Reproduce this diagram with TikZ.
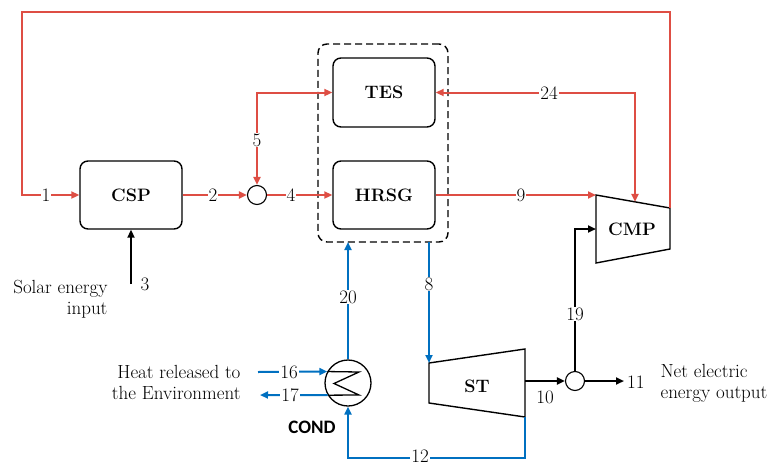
\documentclass[tikz,border=0pt]{standalone}
\usepackage{fontspec}
\newfontfamily\condfont{Carlito}
\usetikzlibrary{arrows.meta}
\definecolor{flowred}{RGB}{222,78,68}
\definecolor{flowblue}{RGB}{0,112,192}
\begin{document}
\begin{tikzpicture}[x=1pt,y=-1pt,
  every node/.style={font=\fontsize{19}{21}\selectfont},
  unit/.style={draw,line width=1.4pt,rounded corners=8pt,minimum width=102pt,minimum height=68pt,font=\fontsize{18}{21}\selectfont\bfseries},
  mixer/.style={draw,circle,line width=1.1pt,minimum size=19pt,inner sep=0pt},
  rflow/.style={draw=flowred,line width=2pt},
  bflow/.style={draw=flowblue,line width=2pt},
  kflow/.style={draw=black,line width=2pt},
  tip/.style={-{Triangle[length=8pt,width=7pt]}},
  tips/.style={{Triangle[length=8pt,width=7pt]}-{Triangle[length=8pt,width=7pt]}},
  lbl/.style={fill=white,inner sep=1pt},
  plain/.style={inner sep=1pt}]
\useasboundingbox (0,0) rectangle (771,466);

% units
\node[unit] (csp) at (131,195) {CSP};
\node[unit,minimum height=69pt] (tes) at (384,92.5) {TES};
\node[unit] (hrsg) at (384,195) {HRSG};
\node[draw,dashed,dash pattern=on 7pt off 4pt,line width=1.4pt,rounded corners=9pt,minimum width=130pt,minimum height=198pt] (grp) at (383,143) {};
\node[mixer] (mixa) at (257,195) {};
\node[mixer] (mixb) at (575,381) {};
\node[draw,circle,line width=1.3pt,minimum size=46pt,inner sep=0pt] (cond) at (348,383) {};

% compressor
\coordinate (cmptl) at (596,195);
\coordinate (cmpbl) at (596,263);
\coordinate (cmptr) at (670,208);
\coordinate (cmpbr) at (670,249);
\coordinate (cmpin) at (635,201.9);
\draw[line width=1.4pt] (cmptl) -- (cmptr) -- (cmpbr) -- (cmpbl) -- cycle;
\node[font=\fontsize{18}{21}\selectfont\bfseries] (cmp) at (632,229) {CMP};

% steam turbine
\coordinate (sttl) at (429,363);
\coordinate (stbl) at (429,403);
\coordinate (sttr) at (525,349);
\coordinate (stbr) at (525,417);
\draw[line width=1.4pt] (sttl) -- (sttr) -- (stbr) -- (stbl) -- cycle;
\node[font=\fontsize{18}{21}\selectfont\bfseries] (st) at (477,386) {ST};

% condenser symbol
\draw[line width=1.3pt] (cond.151) -- (359,372) -- (334,383.5) -- (359,395) -- (cond.211);
\node[font=\condfont\fontsize{19}{22}\selectfont\bfseries] (condl) at (312,427) {COND};

% red flows
\coordinate (c1a) at (670,12);
\coordinate (c1b) at (22,12);
\coordinate (c1c) at (22,195);
\draw[rflow,tip] (cmptr) -- (c1a) -- (c1b) -- (c1c) -- (csp.west);
\node[lbl] (l1) at (46,195) {1};
\draw[rflow,tip] (csp.east) -- (mixa.west);
\node[lbl] (l2) at (213,195) {2};
\draw[rflow,tip] (mixa.east) -- (hrsg.west);
\node[lbl] (l4) at (291,195) {4};
\coordinate (c5) at (257,92.5);
\draw[rflow,tips] (mixa.north) -- (c5) -- (tes.west);
\node[lbl] (l5) at (257,140) {5};
\coordinate (c24) at (635,92.5);
\draw[rflow,tips] (tes.east) -- (c24) -- (cmpin);
\node[lbl] (l24) at (549,93) {24};
\draw[rflow,tip] (hrsg.east) -- (cmptl);
\node[lbl] (l9) at (521,195) {9};

% blue flows
\coordinate (c8a) at (429,242);
\draw[bflow,tip] (c8a) -- (sttl);
\node[lbl] (l8) at (429,284) {8};
\coordinate (c20) at (348,242);
\draw[bflow,tip] (cond.north) -- (c20);
\node[lbl] (l20) at (348,297) {20};
\coordinate (c12a) at (525,458);
\coordinate (c12b) at (348,458);
\draw[bflow,tip] (stbr) -- (c12a) -- (c12b) -- (cond.south);
\node[lbl,inner ysep=0pt] (l12) at (420,456) {12};
\coordinate (c16) at (258,372);
\draw[bflow,tip] (c16) -- (cond.151);
\node[lbl] (l16) at (289,372) {16};
\coordinate (c17) at (260,395);
\draw[bflow,tip] (cond.211) -- (c17);
\node[lbl] (l17) at (290,395) {17};

% black flows
\coordinate (c3) at (131,284);
\draw[kflow,tip] (c3) -- (csp.south);
\node[plain] (l3) at (145,284) {3};
\coordinate (stout) at (525,381);
\draw[kflow,tip] (stout) -- (mixb.west);
\node[plain] (l10) at (545,397) {10};
\coordinate (c11) at (624,381);
\draw[kflow,tip] (mixb.east) -- (c11);
\node[plain,anchor=west] (l11) at (626,382) {11};
\coordinate (c19) at (575,229);
\draw[kflow,tip] (mixb.north) -- (c19) -- (cmptl |- c19);
\node[lbl] (l19) at (575,314) {19};

% texts
\node[align=right,anchor=east] (solar) at (111,299) {Solar energy\\input};
\node[align=right,anchor=east] (heat) at (244,382) {Heat released to\\the Environment};
\node[align=left,anchor=west] (net) at (657,383) {Net electric\\energy output};
\end{tikzpicture}
\end{document}
